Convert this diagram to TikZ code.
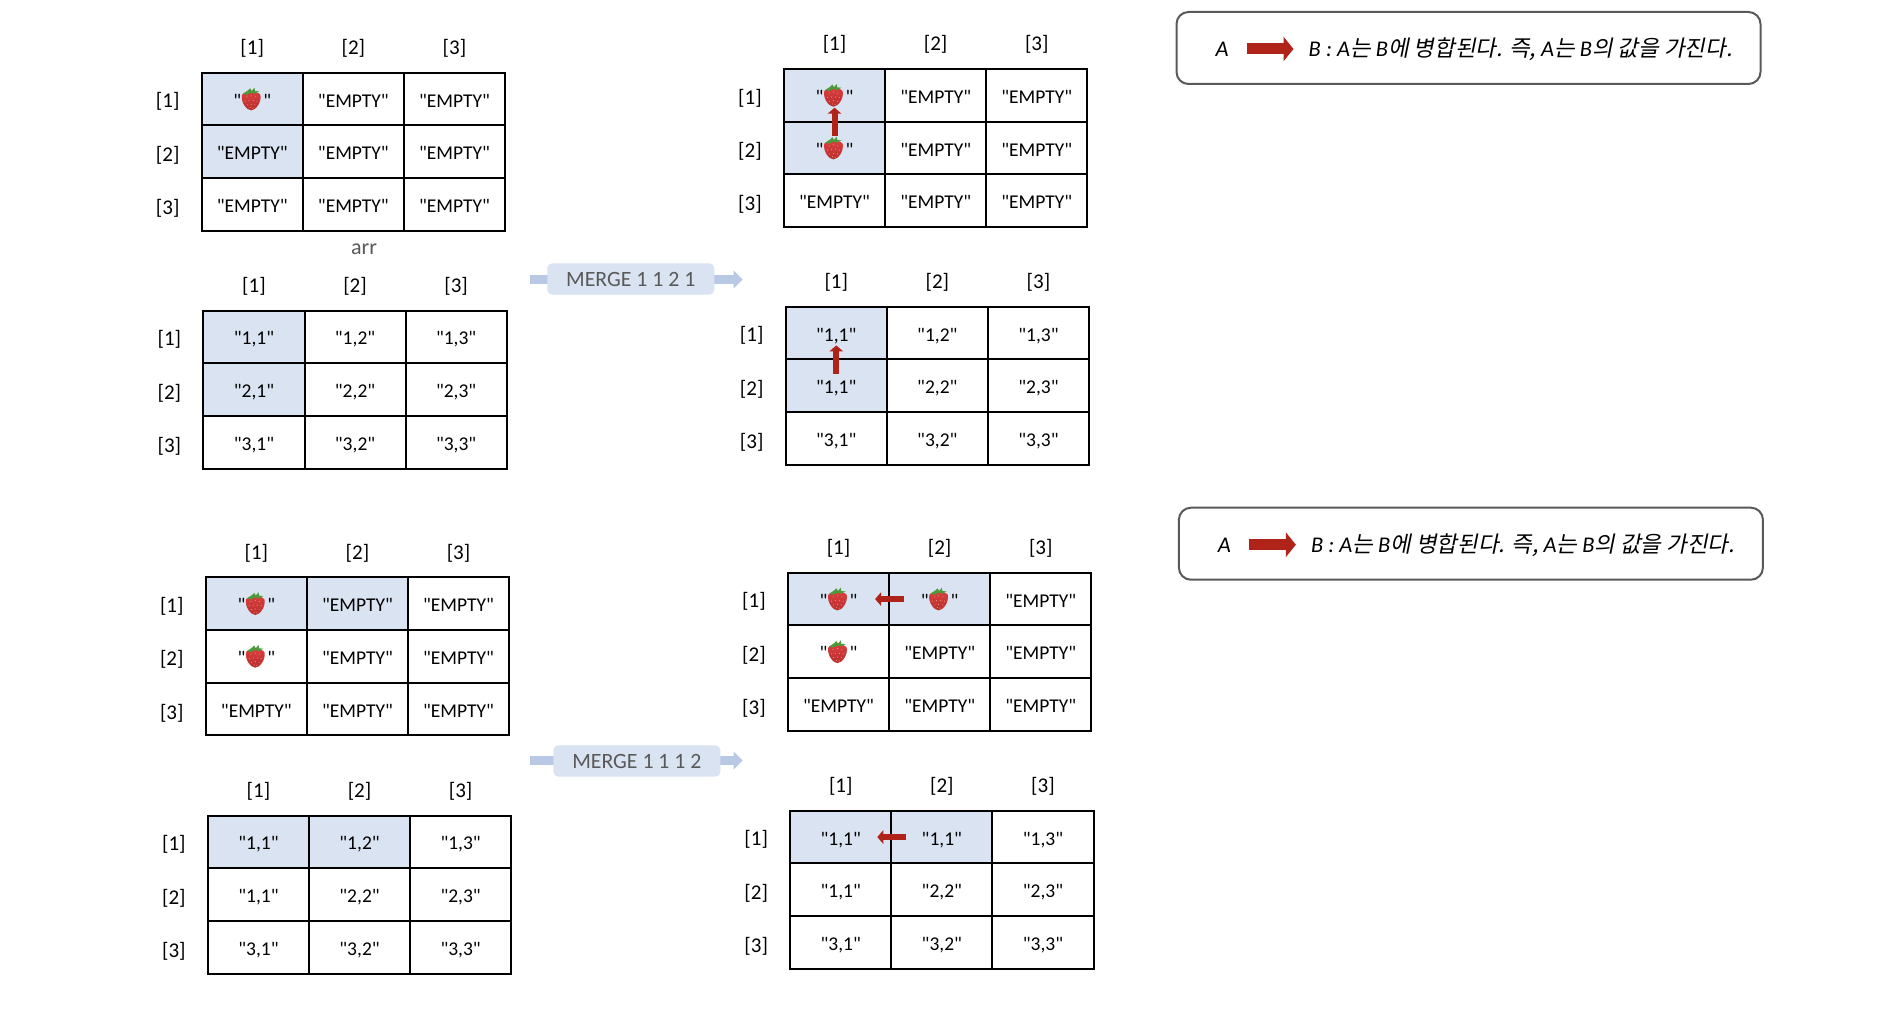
\documentclass[tikz,border=0pt]{standalone}
\usepackage{fontspec}
\newfontfamily\carlito{Carlito}
\newfontfamily\cjk[FakeSlant=0.2]{Noto Sans CJK KR}
\usetikzlibrary{arrows.meta}
\definecolor{hl}{HTML}{DAE3F1}
\definecolor{stemblue}{HTML}{B9C8E4}
\definecolor{redarrow}{HTML}{B02318}
\definecolor{greytext}{HTML}{595959}
\definecolor{berrytop}{HTML}{D9413F}
\definecolor{berrybot}{HTML}{BA2E2E}
\definecolor{berryseed}{HTML}{E8A070}
\definecolor{berryleaf}{HTML}{4E9A3B}
\newcommand{\cE}{"EMPTY"}
\newcommand{\cS}{"\hspace{22pt}"}
\newcommand{\agrid}[4]{%
  \foreach \t/\f [count=\i from 0] in {#4} {
    \pgfmathtruncatemacro\rr{int(\i/3)+1}
    \pgfmathtruncatemacro\cc{mod(\i,3)+1}
    \node[cellbox,fill=\f] (#1-\rr-\cc) at ({#2+(\cc-.5)*101.1},{#3+(\rr-.5)*52.7}) {\t};
  }
  \foreach \k in {1,2,3} {
    \node[idx] (#1-c\k) at ({#2+(\k-.5)*101.1},{#3-24.3}) {[\k]};
    \node[idx] (#1-r\k) at ({#2-34},{#3+29+(\k-1)*53.35}) {[\k]};
  }
}
\newcommand{\legendbox}[3]{%
  \node[legend] (#1) at (#2,#3) {};
  \node[legtext,anchor=center] (#1-a) at ([xshift=-246.5pt,yshift=-1.5pt]#1.center) {\itshape A};
  \coordinate (#1-s) at ([xshift=-222pt,yshift=-1pt]#1.center);
  \coordinate (#1-e) at ([xshift=-175pt,yshift=-1pt]#1.center);
  \draw[redblock legend] (#1-s) -- (#1-e);
  \node[legtext,anchor=west] (#1-t) at ([xshift=-160pt,yshift=-1.5pt]#1.center) {\itshape B : A\cjk 는\carlito\itshape\ B\cjk 에 병합된다. 즉,\carlito\itshape\ A\cjk 는\carlito\itshape\ B\cjk 의 값을 가진다.};
}
\tikzset{
  cellbox/.style={draw=black,line width=2pt,minimum width=101.1pt,minimum height=52.7pt,inner sep=0pt,font=\carlito\fontsize{19.5}{22}\selectfont,text height=16pt,text depth=0pt},
  idx/.style={inner sep=0pt,font=\carlito\fontsize{21}{24}\selectfont,text=black},
  merge/.style={fill=hl,rounded corners=5pt,minimum width=167pt,minimum height=31.4pt,inner sep=0pt,text=greytext,font=\carlito\fontsize{21.8}{24}\selectfont,text height=14pt,text depth=0pt},
  mergearrow/.style={draw=stemblue,line width=9pt,-{Triangle[width=17pt,length=9pt,fill=stemblue]}},
  redblock/.style={draw=redarrow,line width=6pt,-{Triangle[width=13.5pt,length=6pt,fill=redarrow]}},
  redblock legend/.style={draw=redarrow,line width=11pt,-{Triangle[width=24pt,length=10pt,fill=redarrow]}},
  legend/.style={draw=greytext,line width=2pt,rounded corners=12pt,fill=white,minimum width=584pt,minimum height=72pt,inner sep=0pt},
  legtext/.style={inner sep=0pt,font=\carlito\fontsize{22.45}{24}\selectfont,text=black},
  labelgrey/.style={inner sep=0pt,text=greytext,font=\carlito\fontsize{22}{24}\selectfont},
  strawberry/.pic={
    \begin{scope}[scale=1.08]
    \path[top color=berrytop,bottom color=berrybot]
      (-9.5,-4) .. controls (-6,-8) and (4,-8) .. (7.5,-4)
      .. controls (9,3) and (3,10.5) .. (-1,10.5)
      .. controls (-5,10.5) and (-11,3) .. (-9.5,-4) -- cycle;
    \foreach \sx/\sy in {-5/-2,-1/-3,3/-2,-6.5/2,-3/1.5,1/1.5,4.5/2,-4.5/5.5,-1/5,2.5/5.5,-2/8,0.5/8.5}
      \fill[berryseed] (\sx,\sy) circle (0.5);
    \fill[berryleaf] (-8.5,-5) -- (-4,-8) -- (-2,-10) -- (-0.5,-7.5) -- (2,-10.5) -- (2.5,-7.5) -- (6.5,-7) -- (2,-5) -- (-1,-6) -- (-5,-4) -- cycle;
    \end{scope}
  }
}
\begin{document}
\begin{tikzpicture}[x=1pt,y=-1pt]
\useasboundingbox (0,0) rectangle (1886,1032);
\fill[white] (0,0) rectangle (1886,1032);

\agrid{a}{201.7}{72.7}{\cS/hl,\cE/white,\cE/white,\cE/hl,\cE/white,\cE/white,\cE/white,\cE/white,\cE/white}
\agrid{b}{203.4}{310.5}{{"1,1"}/hl,{"1,2"}/white,{"1,3"}/white,{"2,1"}/hl,{"2,2"}/white,{"2,3"}/white,{"3,1"}/white,{"3,2"}/white,{"3,3"}/white}
\agrid{c}{784}{69}{\cS/hl,\cE/white,\cE/white,\cS/hl,\cE/white,\cE/white,\cE/white,\cE/white,\cE/white}
\agrid{d}{785.7}{306.7}{{"1,1"}/hl,{"1,2"}/white,{"1,3"}/white,{"1,1"}/hl,{"2,2"}/white,{"2,3"}/white,{"3,1"}/white,{"3,2"}/white,{"3,3"}/white}
\agrid{e}{205.8}{577.3}{\cS/hl,\cE/hl,\cE/white,\cS/white,\cE/white,\cE/white,\cE/white,\cE/white,\cE/white}
\agrid{f}{207.9}{815.5}{{"1,1"}/hl,{"1,2"}/hl,{"1,3"}/white,{"1,1"}/white,{"2,2"}/white,{"2,3"}/white,{"3,1"}/white,{"3,2"}/white,{"3,3"}/white}
\agrid{g}{788}{572.7}{\cS/hl,\cS/hl,\cE/white,\cS/white,\cE/white,\cE/white,\cE/white,\cE/white,\cE/white}
\agrid{h}{790.2}{810.7}{{"1,1"}/hl,{"1,1"}/hl,{"1,3"}/white,{"1,1"}/white,{"2,2"}/white,{"2,3"}/white,{"3,1"}/white,{"3,2"}/white,{"3,3"}/white}

\foreach \n in {a-1-1,c-1-1,c-2-1,e-1-1,e-2-1,g-1-1,g-1-2,g-2-1}
  \pic at (\n.center) {strawberry};

\node[labelgrey] (arr) at (364,249) {arr};

% red block arrows across cell borders
\coordinate (c-s) at ([yshift=-13.3pt]c-1-1.south);
\coordinate (c-e) at ([yshift=15pt]c-1-1.south);
\draw[redblock] (c-s) -- (c-e);
\coordinate (d-s) at ([yshift=-13.3pt]d-1-1.south);
\coordinate (d-e) at ([yshift=15pt]d-1-1.south);
\draw[redblock] (d-s) -- (d-e);
\coordinate (g-s) at ([xshift=14pt]g-1-1.east);
\coordinate (g-e) at ([xshift=-15pt]g-1-1.east);
\draw[redblock] (g-s) -- (g-e);
\coordinate (h-s) at ([xshift=14pt]h-1-1.east);
\coordinate (h-e) at ([xshift=-15pt]h-1-1.east);
\draw[redblock] (h-s) -- (h-e);

% merge arrows
\coordinate (m1s) at (530,279.5);
\coordinate (m1t) at (742.7,279.5);
\draw[mergearrow] (m1s) -- (m1t);
\node[merge] (m1) at (630.8,279) {MERGE 1 1 2 1};
\coordinate (m2s) at (530,760.5);
\coordinate (m2t) at (742.7,760.5);
\draw[mergearrow] (m2s) -- (m2t);
\node[merge] (m2) at (636.9,761) {MERGE 1 1 1 2};

\legendbox{l1}{1468.5}{48}
\legendbox{l2}{1470.9}{543.7}
\end{tikzpicture}
\end{document}
